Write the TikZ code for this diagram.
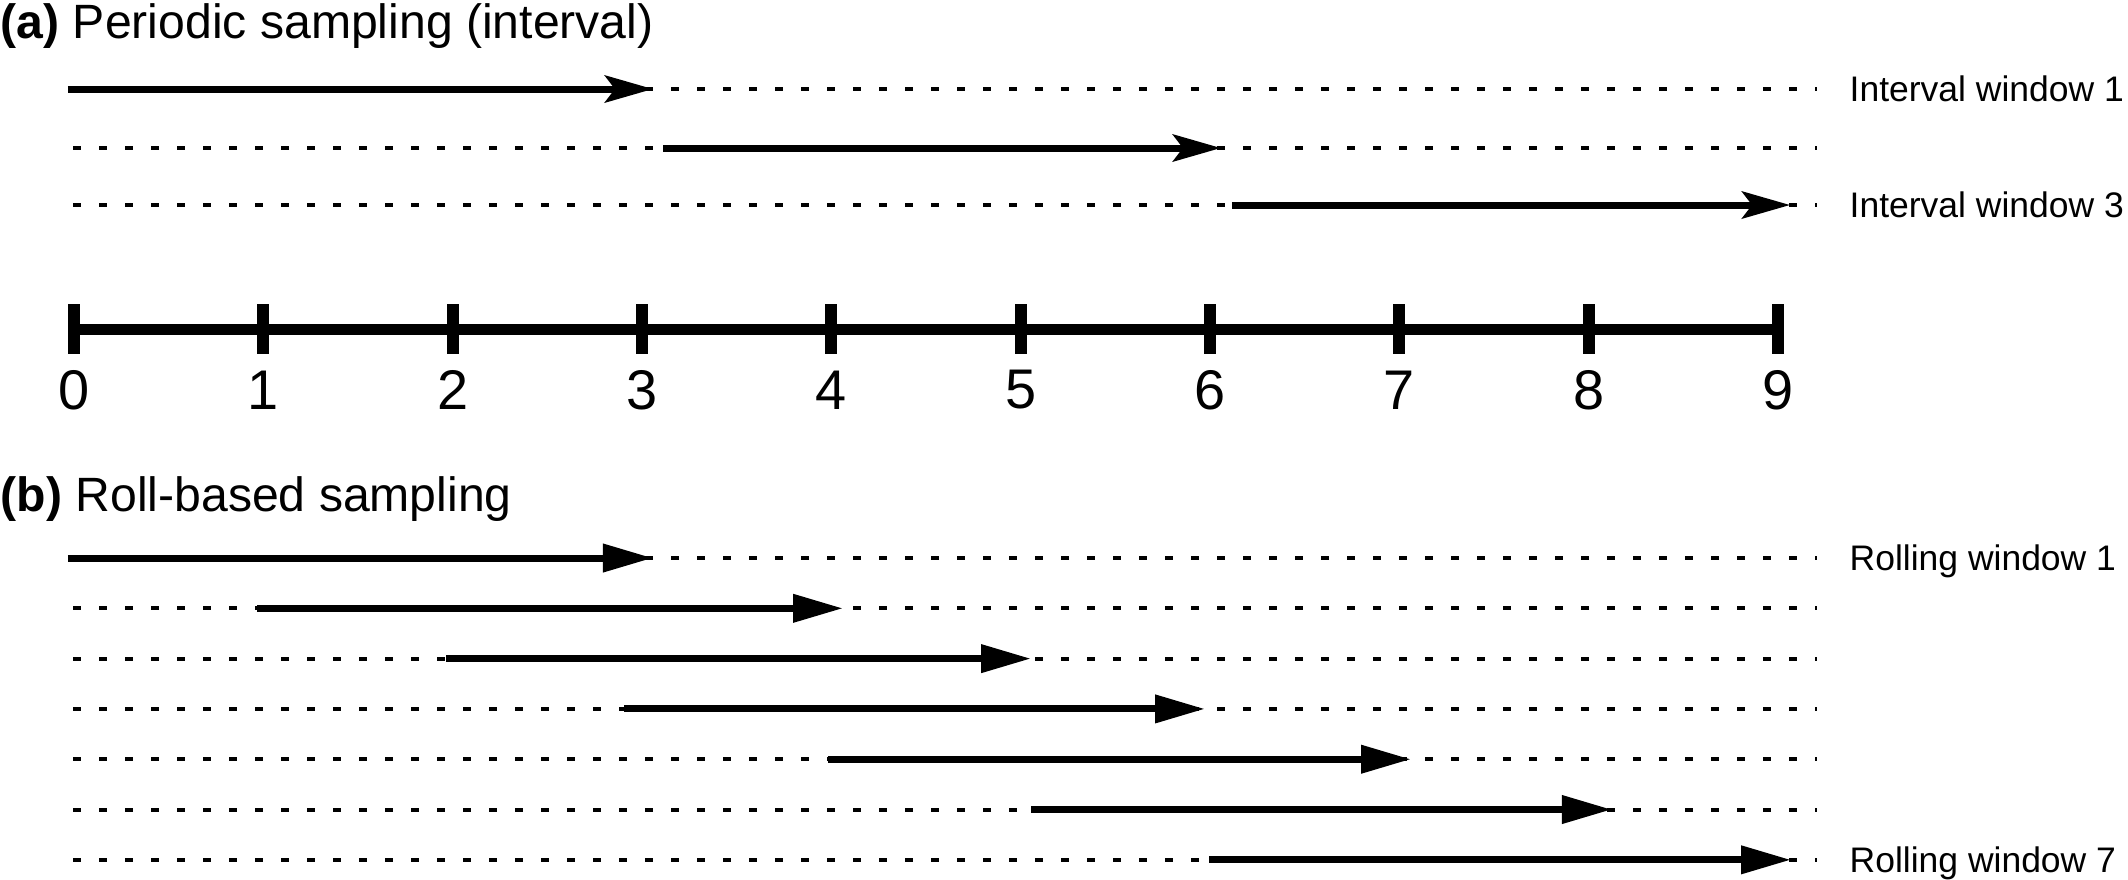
\documentclass[tikz,border=0pt]{standalone}
\usepackage{fontspec}
\setmainfont{Liberation Sans}
\usetikzlibrary{arrows.meta}

\tikzset{
  gap/.style   = {line width=0.04cm, dash pattern=on 0.08cm off 0.18cm},
  win/.style   = {line width=0.07cm, -{Stealth[length=0.48cm, width=0.27cm, inset=0.1cm]}},
  roll/.style  = {line width=0.07cm, -{Triangle[length=0.5cm, width=0.27cm]}},
  axis/.style  = {line width=0.11cm},
  tickmark/.style = {line width=0.12cm},
  num/.style   = {inner sep=0pt, font=\fontsize{15.9}{18}\selectfont},
  lbl/.style   = {anchor=base west, inner sep=0pt, font=\fontsize{10.1}{12}\selectfont},
  title/.style = {anchor=base west, inner sep=0pt, font=\fontsize{13.7}{16}\selectfont}
}

\begin{document}
\begin{tikzpicture}

\useasboundingbox (0,0) rectangle (21.28,-8.79);

\node[title] (ta) at (0,-0.38) {\textbf{(a)} Periodic sampling (interval)};
\node[title] (tb) at (0,-5.11) {\textbf{(b)} Roll-based sampling};

\begin{scope}[xshift = 0.74cm, x = 1.8933cm]

\draw[gap] (-0.005,-0.89) -- (9.206,-0.89);
\draw[win] (-0.032,-0.89) -- (3.058,-0.89);
\node[lbl] (iw1) at (9.375,-1.017) {Interval window 1};

\draw[gap] (-0.005,-1.48) -- (9.206,-1.48);
\draw[win] (3.111,-1.48) -- (6.058,-1.48);

\draw[gap] (-0.005,-2.05) -- (9.206,-2.05);
\draw[win] (6.116,-2.05) -- (9.064,-2.05);
\node[lbl] (iw3) at (9.375,-2.177) {Interval window 3};


\draw[axis] (0,-3.29) -- (9,-3.29);

\draw[tickmark] (0,-3.04) -- (0,-3.54);
\node[num] (n0) at (0,-3.90) {0};
\draw[tickmark] (1,-3.04) -- (1,-3.54);
\node[num] (n1) at (1,-3.90) {1};
\draw[tickmark] (2,-3.04) -- (2,-3.54);
\node[num] (n2) at (2,-3.90) {2};
\draw[tickmark] (3,-3.04) -- (3,-3.54);
\node[num] (n3) at (3,-3.90) {3};
\draw[tickmark] (4,-3.04) -- (4,-3.54);
\node[num] (n4) at (4,-3.90) {4};
\draw[tickmark] (5,-3.04) -- (5,-3.54);
\node[num] (n5) at (5,-3.90) {5};
\draw[tickmark] (6,-3.04) -- (6,-3.54);
\node[num] (n6) at (6,-3.90) {6};
\draw[tickmark] (7,-3.04) -- (7,-3.54);
\node[num] (n7) at (7,-3.90) {7};
\draw[tickmark] (8,-3.04) -- (8,-3.54);
\node[num] (n8) at (8,-3.90) {8};
\draw[tickmark] (9,-3.04) -- (9,-3.54);
\node[num] (n9) at (9,-3.90) {9};


\draw[gap]  (-0.005,-5.58) -- (9.206,-5.58);
\draw[roll] (-0.032,-5.58) -- (3.058,-5.58);
\node[lbl] (rw1) at (9.375,-5.707) {Rolling window 1};

\draw[gap]  (-0.005,-6.083) -- (9.206,-6.083);
\draw[roll] (0.967,-6.083) -- (4.062,-6.083);

\draw[gap]  (-0.005,-6.586) -- (9.206,-6.586);
\draw[roll] (1.965,-6.586) -- (5.055,-6.586);

\draw[gap]  (-0.005,-7.089) -- (9.206,-7.089);
\draw[roll] (2.905,-7.089) -- (5.974,-7.089);

\draw[gap]  (-0.005,-7.592) -- (9.206,-7.592);
\draw[roll] (3.982,-7.592) -- (7.062,-7.592);

\draw[gap]  (-0.005,-8.095) -- (9.206,-8.095);
\draw[roll] (5.055,-8.095) -- (8.123,-8.095);

\draw[gap]  (-0.005,-8.598) -- (9.206,-8.598);
\draw[roll] (5.995,-8.598) -- (9.069,-8.598);
\node[lbl] (rw7) at (9.375,-8.725) {Rolling window 7};

\end{scope}

\end{tikzpicture}
\end{document}
